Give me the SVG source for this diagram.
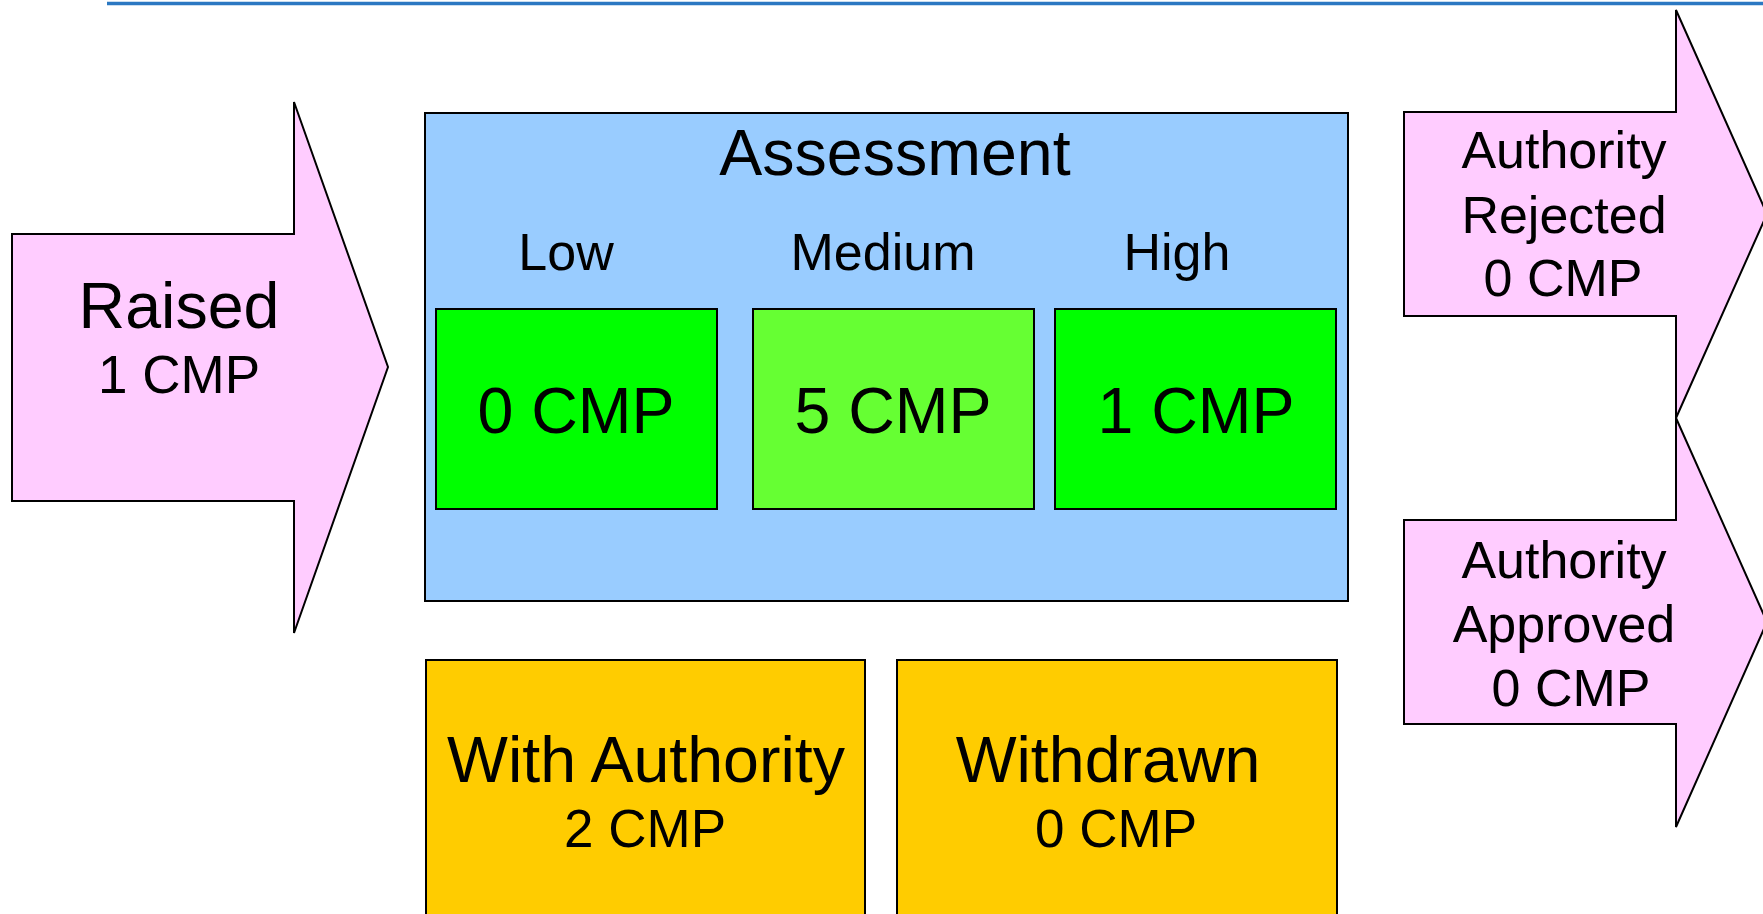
<svg xmlns="http://www.w3.org/2000/svg" width="1763" height="914" viewBox="0 0 1763 914">
<style>
text{font-family:"Liberation Sans",Arial,sans-serif;fill:#000;text-anchor:middle}
.b{stroke:#000;stroke-width:2}
.pink{fill:#FFCCFF}
.blue{fill:#99CCFF}
.g1{fill:#00FF00}
.g2{fill:#66FF33}
.y{fill:#FFCC00}
.f65{font-size:64.5px}
.f53{font-size:53px}
.f52{font-size:52px}
</style>
<rect width="1763" height="914" fill="#fff"/>
<line x1="107" y1="3.5" x2="1763" y2="3.5" stroke="#2B78C2" stroke-width="3.5"/>
<g id="connectors"/>
<g id="raised">
<polygon class="pink b" points="12,234 294,234 294,102 388,367 294,633 294,501 12,501"/>
<text class="f65" x="179" y="328">Raised</text>
<text class="f53" x="179" y="393">1 CMP</text>
</g>
<g id="assessment">
<rect class="blue b" x="425" y="113" width="923" height="488"/>
<text class="f65" x="895" y="175">Assessment</text>
<text class="f52" x="566" y="270">Low</text>
<text class="f52" x="883" y="270">Medium</text>
<text class="f52" x="1177" y="270">High</text>
</g>
<g id="low">
<rect class="g1 b" x="436" y="309" width="281" height="200"/>
<text class="f65" x="576" y="433">0 CMP</text>
</g>
<g id="medium">
<rect class="g2 b" x="753" y="309" width="281" height="200"/>
<text class="f65" x="893" y="433">5 CMP</text>
</g>
<g id="high">
<rect class="g1 b" x="1055" y="309" width="281" height="200"/>
<text class="f65" x="1196" y="433">1 CMP</text>
</g>
<g id="with-authority">
<rect class="y b" x="426" y="660" width="439" height="270"/>
<text class="f65" x="646" y="782">With Authority</text>
<text class="f53" x="645" y="847">2 CMP</text>
</g>
<g id="withdrawn">
<rect class="y b" x="897" y="660" width="440" height="270"/>
<text class="f65" x="1108" y="782">Withdrawn</text>
<text class="f53" x="1116" y="847">0 CMP</text>
</g>
<g id="authority-rejected">
<polygon class="pink b" points="1404,112 1676,112 1676,10 1767,214 1676,418 1676,316 1404,316"/>
<text class="f52" x="1564" y="168">Authority</text>
<text class="f52" x="1564" y="233">Rejected</text>
<text class="f52" x="1563" y="296">0 CMP</text>
</g>
<g id="authority-approved">
<polygon class="pink b" points="1404,520 1676,520 1676,418 1767,622 1676,827 1676,724 1404,724"/>
<text class="f52" x="1564" y="578">Authority</text>
<text class="f52" x="1564" y="642">Approved</text>
<text class="f52" x="1571" y="706">0 CMP</text>
</g>
</svg>
